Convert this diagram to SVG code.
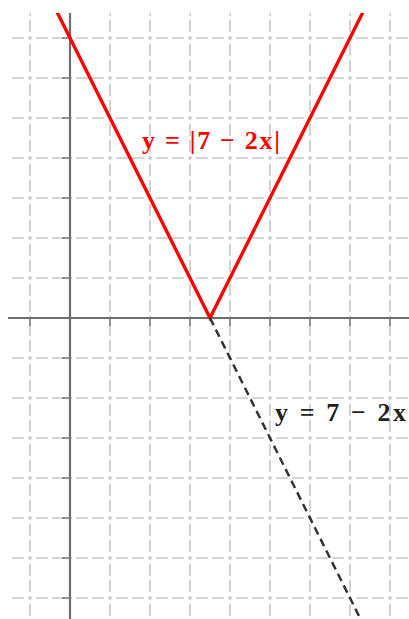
<svg xmlns="http://www.w3.org/2000/svg" width="409" height="619" viewBox="0 0 409 619">
  <defs>
    <clipPath id="area"><rect x="8" y="13" width="401" height="606"/></clipPath>
    <style>
      .grid line { stroke: #c8c8c8; stroke-width: 1.6; stroke-dasharray: 4 4 12 4 12 4; stroke-dashoffset: 2; }
      .axis { stroke: #6e6e6e; stroke-width: 2.2; }
      .tick { stroke: #7a7a7a; stroke-width: 1.6; }
      .lbl { font-family: "Liberation Serif", "Times New Roman", serif; font-weight: bold; font-size: 26px; }
    </style>
  </defs>
  <rect width="409" height="619" fill="#ffffff"/>
  <g id="grid" class="grid" clip-path="url(#area)">
    <line x1="30" y1="-2" x2="30" y2="640"/>
    <line x1="110" y1="-2" x2="110" y2="640"/>
    <line x1="150" y1="-2" x2="150" y2="640"/>
    <line x1="190" y1="-2" x2="190" y2="640"/>
    <line x1="230" y1="-2" x2="230" y2="640"/>
    <line x1="270" y1="-2" x2="270" y2="640"/>
    <line x1="310" y1="-2" x2="310" y2="640"/>
    <line x1="350" y1="-2" x2="350" y2="640"/>
    <line x1="390" y1="-2" x2="390" y2="640"/>
    <line x1="-10" y1="38" x2="430" y2="38"/>
    <line x1="-10" y1="78" x2="430" y2="78"/>
    <line x1="-10" y1="118" x2="430" y2="118"/>
    <line x1="-10" y1="158" x2="430" y2="158"/>
    <line x1="-10" y1="198" x2="430" y2="198"/>
    <line x1="-10" y1="238" x2="430" y2="238"/>
    <line x1="-10" y1="278" x2="430" y2="278"/>
    <line x1="-10" y1="358" x2="430" y2="358"/>
    <line x1="-10" y1="398" x2="430" y2="398"/>
    <line x1="-10" y1="438" x2="430" y2="438"/>
    <line x1="-10" y1="478" x2="430" y2="478"/>
    <line x1="-10" y1="518" x2="430" y2="518"/>
    <line x1="-10" y1="558" x2="430" y2="558"/>
    <line x1="-10" y1="598" x2="430" y2="598"/>
  </g>
  <g id="axes">
    <line class="axis" x1="70" y1="13" x2="70" y2="619"/>
    <line class="axis" x1="8" y1="318" x2="409" y2="318"/>
    <g class="tick">
      <line x1="30" y1="318" x2="30" y2="326"/>
      <line x1="110" y1="318" x2="110" y2="326"/>
      <line x1="150" y1="318" x2="150" y2="326"/>
      <line x1="190" y1="318" x2="190" y2="326"/>
      <line x1="230" y1="318" x2="230" y2="326"/>
      <line x1="270" y1="318" x2="270" y2="326"/>
      <line x1="310" y1="318" x2="310" y2="326"/>
      <line x1="350" y1="318" x2="350" y2="326"/>
      <line x1="390" y1="318" x2="390" y2="326"/>
      <line x1="62" y1="38" x2="70" y2="38"/>
      <line x1="62" y1="78" x2="70" y2="78"/>
      <line x1="62" y1="118" x2="70" y2="118"/>
      <line x1="62" y1="158" x2="70" y2="158"/>
      <line x1="62" y1="198" x2="70" y2="198"/>
      <line x1="62" y1="238" x2="70" y2="238"/>
      <line x1="62" y1="278" x2="70" y2="278"/>
      <line x1="62" y1="358" x2="70" y2="358"/>
      <line x1="62" y1="398" x2="70" y2="398"/>
      <line x1="62" y1="438" x2="70" y2="438"/>
      <line x1="62" y1="478" x2="70" y2="478"/>
      <line x1="62" y1="518" x2="70" y2="518"/>
      <line x1="62" y1="558" x2="70" y2="558"/>
      <line x1="62" y1="598" x2="70" y2="598"/>
    </g>
  </g>
  <g id="connectors" clip-path="url(#area)">
    <polyline id="abs-graph" points="51,0 210,318 369,0" fill="none" stroke="#ff0000" stroke-width="3.4"/>
    <line id="linear-graph" x1="210" y1="318" x2="361" y2="620" stroke="#333333" stroke-width="2.5" stroke-dasharray="8 5"/>
  </g>
  <g id="label-abs">
    <text class="lbl" x="142" y="149" fill="#ff0000" textLength="138" lengthAdjust="spacing">y = |7 − 2x|</text>
  </g>
  <g id="label-linear">
    <text class="lbl" x="275" y="421" fill="#222222" textLength="131" lengthAdjust="spacing">y = 7 − 2x</text>
  </g>
</svg>
